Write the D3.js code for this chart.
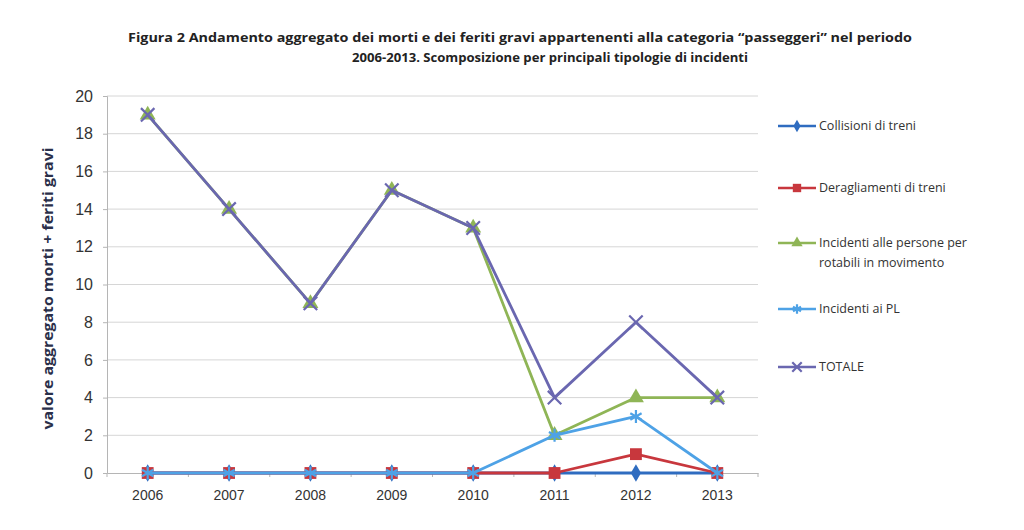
<!DOCTYPE html>
<html>
<head>
<meta charset="utf-8">
<script src="https://cdn.jsdelivr.net/npm/d3@7"></script>
<style>
  body { margin: 0; background: #fff; }
  svg { font-family: "Open Sans", "Noto Sans", sans-serif; }
</style>
</head>
<body>
<svg width="1024" height="530"></svg>
<script>
const svg = d3.select("svg");

// Chart data
const years = ["2006", "2007", "2008", "2009", "2010", "2011", "2012", "2013"];
const collisioni = [0, 0, 0, 0, 0, 0, 0, 0];
const deragliamenti = [0, 0, 0, 0, 0, 0, 1, 0];
const incidentiPersone = [19, 14, 9, 15, 13, 2, 4, 4];
const incidentiPL = [0, 0, 0, 0, 0, 2, 3, 0];
const totale = [19, 14, 9, 15, 13, 4, 8, 4];
const yTicks = [0, 2, 4, 6, 8, 10, 12, 14, 16, 18, 20];

const seriesNames = ["Collisioni di treni", "Deragliamenti di treni",
    "Incidenti alle persone per rotabili in movimento", "Incidenti ai PL", "TOTALE"];

const series = [
    { name: seriesNames[0], values: collisioni, color: "#2f6cc0", symbol: "diamond" },
    { name: seriesNames[1], values: deragliamenti, color: "#c8373d", symbol: "square" },
    { name: seriesNames[2], values: incidentiPersone, color: "#8fb556", symbol: "triangle" },
    { name: seriesNames[3], values: incidentiPL, color: "#4ea2e6", symbol: "star" },
    { name: seriesNames[4], values: totale, color: "#6a67b0", symbol: "cross" }
];

const plot = { left: 107, right: 758, top: 96, bottom: 473 };

const x = d3.scaleBand().domain(years).range([plot.left, plot.right]);
const y = d3.scaleLinear().domain([0, 20]).range([plot.bottom, plot.top]);
const xc = d => x(d) + x.bandwidth() / 2;

// Title
const title = svg.append("g").attr("font-weight", "bold").attr("fill", "#222")
    .attr("font-size", 13).attr("text-anchor", "middle");
title.append("text").attr("x", 520).attr("y", 42)
    .attr("textLength", 784).attr("lengthAdjust", "spacingAndGlyphs")
    .text("Figura 2 Andamento aggregato  dei morti e dei feriti gravi appartenenti alla categoria \u201Cpasseggeri\u201D nel periodo");
title.append("text").attr("x", 550).attr("y", 62)
    .attr("textLength", 396).attr("lengthAdjust", "spacingAndGlyphs")
    .text("2006-2013. Scomposizione per principali tipologie di incidenti");

// Gridlines
svg.append("g").selectAll("line").data(yTicks.filter(t => t > 0))
    .enter().append("line")
    .attr("x1", plot.left).attr("x2", plot.right)
    .attr("y1", d => y(d)).attr("y2", d => y(d))
    .attr("stroke", "#d6d6d6").attr("stroke-width", 1);

// Y axis
const yAxis = svg.append("g")
    .attr("transform", `translate(${plot.left},0)`)
    .call(d3.axisLeft(y).tickValues(yTicks).tickSize(4).tickPadding(10));
yAxis.select(".domain").attr("stroke", "#b5b5b5");
yAxis.selectAll(".tick line").attr("stroke", "#b5b5b5");
yAxis.selectAll(".tick text").attr("font-size", 16).attr("fill", "#333")
    .attr("font-family", "'Liberation Sans', Arial, sans-serif");

// X axis
const xAxis = svg.append("g")
    .attr("transform", `translate(0,${plot.bottom})`)
    .call(d3.axisBottom(x).tickSize(0).tickPadding(17));
xAxis.select(".domain").attr("stroke", "#b5b5b5");
xAxis.selectAll(".tick text").attr("font-size", 14).attr("fill", "#333");
xAxis.append("g").selectAll("line").data(years.concat(["end"]))
    .enter().append("line")
    .attr("x1", (d, i) => plot.left + i * x.step())
    .attr("x2", (d, i) => plot.left + i * x.step())
    .attr("y1", 0).attr("y2", 4).attr("stroke", "#b5b5b5");

// Y axis title
svg.append("text")
    .attr("transform", `translate(53,${(plot.top + plot.bottom) / 2 + 4}) rotate(-90)`)
    .attr("text-anchor", "middle").attr("font-size", 14).attr("font-weight", "bold")
    .attr("fill", "#2a2f4a")
    .attr("textLength", 282).attr("lengthAdjust", "spacingAndGlyphs")
    .text("valore aggregato morti + feriti gravi");

// Markers
const drawMarker = (g, symbol, color, size) => {
    if (symbol === "diamond") {
        g.append("path").attr("d", d3.symbol(d3.symbolDiamond, size * 9)()).attr("fill", color);
    } else if (symbol === "square") {
        g.append("path").attr("d", d3.symbol(d3.symbolSquare, size * 14)()).attr("fill", color);
    } else if (symbol === "triangle") {
        g.append("path").attr("d", d3.symbol(d3.symbolTriangle, size * 11)()).attr("fill", color);
    } else if (symbol === "star") {
        g.append("path").attr("d", d3.symbol(d3.symbolAsterisk, size * 12)())
            .attr("stroke", color).attr("stroke-width", 2.2).attr("fill", "none");
    } else {
        g.append("path").attr("d", d3.symbol(d3.symbolTimes, size * 12)())
            .attr("stroke", color).attr("stroke-width", 2.2).attr("fill", "none");
    }
};

const line = d3.line().x((d, i) => xc(years[i])).y(d => y(d));

series.forEach(s => {
    const g = svg.append("g");
    g.append("path").datum(s.values)
        .attr("d", line)
        .attr("fill", "none").attr("stroke", s.color).attr("stroke-width", 2.8)
        .attr("stroke-linejoin", "round");
    g.selectAll("g.m").data(s.values).enter().append("g")
        .attr("transform", (d, i) => `translate(${xc(years[i])},${y(d)})`)
        .each(function () { drawMarker(d3.select(this), s.symbol, s.color, 10); });
});

// Legend
const legendY = [126, 188, 243, 309, 367];
const legend = svg.append("g").attr("font-size", 12.5).attr("fill", "#333");
series.forEach((s, i) => {
    const g = legend.append("g").attr("transform", `translate(778,${legendY[i]})`);
    g.append("line").attr("x1", 0).attr("x2", 38).attr("y1", 0).attr("y2", 0)
        .attr("stroke", s.color).attr("stroke-width", 2.6);
    const m = g.append("g").attr("transform", "translate(19,0)");
    drawMarker(m, s.symbol, s.color, 5);
    const t = g.append("text").attr("x", 41).attr("y", 4);
    if (i === 2) {
        t.append("tspan").attr("x", 41).text("Incidenti alle persone per");
        t.append("tspan").attr("x", 41).attr("dy", 20).text("rotabili in movimento");
    } else {
        t.text(s.name);
    }
});
</script>
</body>
</html>
